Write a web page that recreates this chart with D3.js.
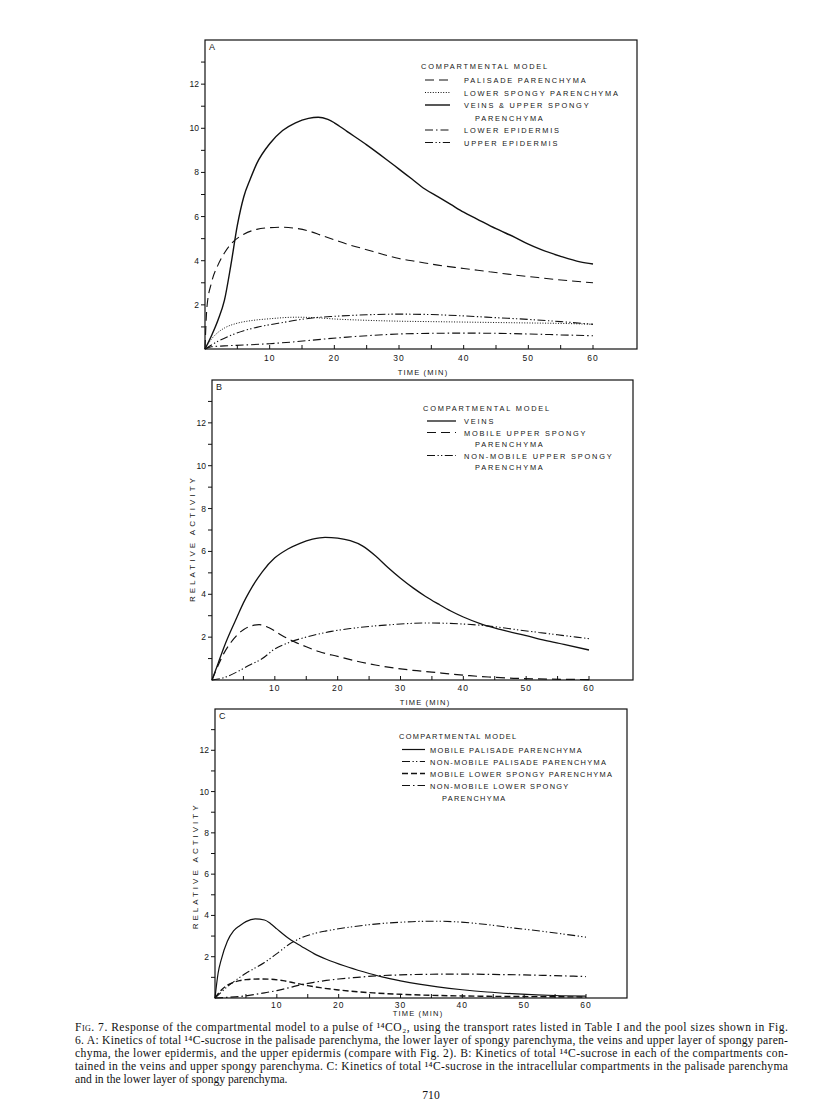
<!DOCTYPE html>
<html>
<head>
<meta charset="utf-8">
<script src="https://cdn.jsdelivr.net/npm/d3@7"></script>
<style>
  body { margin: 0; background: #fff; }
  svg { display: block; }
  .lbl { font-family: "Liberation Sans", Arial, sans-serif; fill: #151515; }
  .cap { font-family: "Liberation Serif", "Times New Roman", serif; font-size: 11.6px; fill: #111; }
</style>
</head>
<body>
<div id="chart"></div>
<script>
// time axis (minutes) shared by all curves
const xTicks = [5, 10, 15, 20, 25, 30, 35, 40, 45, 50, 55, 60];
const xTickLabels = ["10", "20", "30", "40", "50", "60"];
const yTicks = [1, 2, 3, 4, 5, 6, 7, 8, 9, 10, 11, 12, 13];
const yTickLabels = ["2", "4", "6", "8", "10", "12"];

// panel A
const palisade = [[0,0],[0.3,1.9],[1,3.0],[2,3.8],[3,4.35],[4,4.75],[6,5.2],[8,5.42],[10,5.5],[12,5.52],[14,5.47],[16,5.35],[18,5.15],[20,4.95],[22,4.75],[25,4.5],[28,4.25],[30,4.1],[33,3.95],[36,3.8],[40,3.65],[44,3.5],[48,3.35],[52,3.22],[56,3.1],[60,3.0]];
const lowerSpongy = [[0,0],[1,0.45],[2,0.75],[3,0.95],[5,1.17],[7,1.28],[10,1.37],[14,1.44],[17,1.42],[20,1.36],[25,1.3],[30,1.26],[35,1.24],[40,1.22],[45,1.2],[50,1.18],[55,1.16],[60,1.12]];
const veinsUpper = [[0,0],[1,0.6],[2,1.3],[3,2.2],[4,3.8],[5,5.6],[6,6.9],[7,7.7],[8,8.4],[10,9.3],[12,9.9],[14,10.25],[16,10.45],[17.5,10.5],[19,10.4],[20,10.25],[22,9.85],[25,9.25],[28,8.6],[30,8.15],[32,7.7],[34,7.25],[36,6.9],[38,6.55],[40,6.2],[42,5.9],[45,5.45],[48,5.05],[50,4.75],[52,4.5],[55,4.2],[58,3.95],[60,3.85]];
const lowerEpidermis = [[0,0],[1,0.1],[3,0.14],[6,0.18],[10,0.24],[14,0.33],[18,0.44],[22,0.54],[26,0.62],[30,0.68],[35,0.71],[40,0.72],[45,0.71],[50,0.68],[55,0.64],[60,0.6]];
const upperEpidermis = [[0,0],[2,0.35],[4,0.62],[6,0.83],[8,0.98],[10,1.1],[12,1.2],[14,1.3],[17,1.42],[20,1.48],[25,1.55],[30,1.58],[35,1.56],[40,1.5],[45,1.42],[50,1.34],[55,1.24],[60,1.12]];

// panel B
const veins = [[0,0],[1,0.8],[2,1.6],[3,2.3],[4,2.95],[5,3.6],[6,4.15],[8,5.05],[10,5.7],[12,6.1],[14,6.38],[16,6.57],[18,6.66],[20,6.62],[22,6.5],[24,6.25],[26,5.8],[28,5.25],[30,4.75],[32,4.3],[34,3.9],[36,3.55],[38,3.22],[40,2.94],[43,2.6],[46,2.35],[50,2.07],[53,1.85],[56,1.66],[60,1.4]];
const mobileUpper = [[0,0],[1,0.7],[2,1.3],[3,1.75],[4,2.1],[5,2.35],[6,2.5],[7.5,2.58],[9,2.45],[11,2.1],[13,1.8],[15,1.55],[17,1.33],[20,1.1],[23,0.88],[26,0.7],[29,0.56],[32,0.45],[35,0.37],[38,0.28],[41,0.2],[44,0.14],[48,0.08],[52,0.05],[56,0.03],[60,0.02]];
const nonMobileUpper = [[0,0],[2,0.12],[4,0.38],[6,0.7],[8,1.0],[10,1.45],[12,1.72],[14,1.92],[16,2.08],[19,2.27],[22,2.4],[25,2.5],[28,2.57],[31,2.63],[34,2.66],[37,2.65],[40,2.61],[43,2.55],[46,2.45],[49,2.33],[52,2.22],[55,2.11],[58,2.0],[60,1.93]];

// panel C
const mobilePalisade = [[0,0],[0.5,1.2],[1,1.85],[2,2.75],[3,3.25],[4,3.5],[5,3.7],[6.5,3.83],[8,3.78],[9,3.6],[10,3.35],[12,2.87],[14,2.5],[16,2.15],[18,1.88],[21,1.55],[24,1.27],[27,1.02],[30,0.83],[33,0.67],[36,0.54],[40,0.4],[44,0.29],[48,0.21],[52,0.15],[56,0.11],[60,0.09]];
const nonMobilePalisade = [[0,0],[1,0.28],[2,0.55],[3,0.78],[4,1.0],[5,1.2],[6,1.37],[8,1.72],[10,2.15],[12,2.6],[14,2.92],[16,3.12],[18,3.25],[21,3.4],[24,3.52],[27,3.61],[30,3.67],[33,3.71],[36,3.72],[39,3.69],[42,3.62],[45,3.52],[48,3.4],[51,3.3],[54,3.19],[57,3.07],[60,2.95]];
const mobileLower = [[0,0],[1,0.38],[2,0.62],[3,0.76],[4,0.84],[5,0.89],[7,0.92],[9,0.91],[11,0.84],[13,0.72],[15,0.6],[17,0.5],[20,0.39],[23,0.3],[26,0.24],[30,0.18],[35,0.13],[40,0.1],[45,0.08],[50,0.07],[55,0.06],[60,0.05]];
const nonMobileLower = [[0,0],[2,0.03],[4,0.07],[6,0.15],[8,0.25],[10,0.36],[12,0.5],[14,0.65],[16,0.76],[18,0.85],[20,0.92],[23,1.0],[26,1.07],[30,1.12],[35,1.15],[40,1.16],[45,1.14],[50,1.12],[55,1.08],[60,1.04]];

const legendTitle = "COMPARTMENTAL MODEL";

// line styles
const DASH = "9,5", DOT = "1,1.6", DASHDOT = "8,3,1.5,3", DASHDOTDOT = "8,2.5,1.3,2.2,1.3,2.5", LONGDASH = "6,3";

const panels = [
  { letter: "A", left: 205, x60: 593, right: 637, top: 40, bottom: 349, yLabel: false,
    tickDY: 12, titleDY: 26, titleX: 423,
    legend: { x: 421, y: 66, lineX: [425, 450], textX: 464, indent: 475, rowH: 12.5, ls: 1.8 },
    series: [
      { data: palisade, dash: DASH, w: 1.1, label: ["PALISADE PARENCHYMA"] },
      { data: lowerSpongy, dash: DOT, w: 1, label: ["LOWER SPONGY PARENCHYMA"] },
      { data: veinsUpper, dash: null, w: 1.4, label: ["VEINS & UPPER SPONGY", "PARENCHYMA"] },
      { data: lowerEpidermis, dash: DASHDOT, w: 1.1, label: ["LOWER EPIDERMIS"] },
      { data: upperEpidermis, dash: DASHDOTDOT, w: 1.1, label: ["UPPER EPIDERMIS"] }
    ] },
  { letter: "B", left: 212, x60: 589, right: 633, top: 380, bottom: 680, yLabel: true,
    tickDY: 11, titleDY: 25, titleX: 425, yLabelAt: 6.6,
    legend: { x: 423, y: 408, lineX: [427, 456], textX: 464, indent: 475, rowH: 11.5, ls: 1.8 },
    series: [
      { data: veins, dash: null, w: 1.3, label: ["VEINS"] },
      { data: mobileUpper, dash: DASH, w: 1.2, label: ["MOBILE UPPER SPONGY", "PARENCHYMA"] },
      { data: nonMobileUpper, dash: DASHDOTDOT, w: 1.1, label: ["NON-MOBILE UPPER SPONGY", "PARENCHYMA"] }
    ] },
  { letter: "C", left: 215, x60: 586, right: 627, top: 709, bottom: 998, yLabel: true,
    tickDY: 10, titleDY: 18, titleX: 418, yLabelAt: 6.4,
    legend: { x: 399, y: 736, lineX: [402, 425], textX: 430, indent: 442, rowH: 12, ls: 1.3 },
    series: [
      { data: mobilePalisade, dash: null, w: 1.2, label: ["MOBILE PALISADE PARENCHYMA"] },
      { data: nonMobilePalisade, dash: DASHDOTDOT, w: 1.1, label: ["NON-MOBILE PALISADE PARENCHYMA"] },
      { data: mobileLower, dash: LONGDASH, w: 1.4, label: ["MOBILE LOWER SPONGY PARENCHYMA"] },
      { data: nonMobileLower, dash: DASHDOT, w: 1.2, label: ["NON-MOBILE LOWER SPONGY", "PARENCHYMA"] }
    ] }
];

const captionLines = [
  ["Fig. 7. ", "Response of the compartmental model to a pulse of ¹⁴CO₂, using the transport rates listed in Table I and the pool sizes shown in Fig."],
  [null, "6. A: Kinetics of total ¹⁴C-sucrose in the palisade parenchyma, the lower layer of spongy parenchyma, the veins and upper layer of spongy paren-"],
  [null, "chyma, the lower epidermis, and the upper epidermis (compare with Fig. 2). B: Kinetics of total ¹⁴C-sucrose in each of the compartments con-"],
  [null, "tained in the veins and upper spongy parenchyma. C: Kinetics of total ¹⁴C-sucrose in the intracellular compartments in the palisade parenchyma"],
  [null, "and in the lower layer of spongy parenchyma."]
];

const W = 816, H = 1101;
const svg = d3.select("#chart").append("svg").attr("width", W).attr("height", H);
svg.append("rect").attr("width", W).attr("height", H).attr("fill", "#fff");

panels.forEach(p => {
  const x = d3.scaleLinear().domain([0, 60]).range([p.left, p.x60]);
  const y = d3.scaleLinear().domain([0, 14]).range([p.bottom, p.top]);
  const g = svg.append("g");

  // frame
  g.append("rect")
    .attr("x", p.left).attr("y", p.top)
    .attr("width", p.right - p.left).attr("height", p.bottom - p.top)
    .attr("fill", "none").attr("stroke", "#111").attr("stroke-width", 1.2);

  // y axis: ticks point outward, labels on even values
  g.selectAll(".yt").data(yTicks).enter().append("line")
    .attr("x1", p.left - 4).attr("x2", p.left)
    .attr("y1", d => y(d)).attr("y2", d => y(d))
    .attr("stroke", "#111").attr("stroke-width", 1);
  g.selectAll(".yl").data(yTickLabels).enter().append("text")
    .attr("class", "lbl")
    .attr("x", p.left - 6).attr("y", d => y(+d) + 3)
    .attr("text-anchor", "end").attr("font-size", 8.5)
    .text(d => d);

  // x axis: ticks point inward
  g.selectAll(".xt").data(xTicks).enter().append("line")
    .attr("x1", d => x(d)).attr("x2", d => x(d))
    .attr("y1", p.bottom).attr("y2", p.bottom - 4)
    .attr("stroke", "#111").attr("stroke-width", 1);
  g.selectAll(".xl").data(xTickLabels).enter().append("text")
    .attr("class", "lbl")
    .attr("x", d => x(+d)).attr("y", p.bottom + p.tickDY)
    .attr("text-anchor", "middle").attr("font-size", 8.5).attr("letter-spacing", 1)
    .text(d => d);
  g.append("text").attr("class", "lbl")
    .attr("x", p.titleX).attr("y", p.bottom + p.titleDY)
    .attr("text-anchor", "middle").attr("font-size", 7.5).attr("letter-spacing", 1.2)
    .text("TIME (MIN)");

  if (p.yLabel) {
    g.append("text").attr("class", "lbl")
      .attr("transform", `translate(${p.left - 17},${y(p.yLabelAt)}) rotate(-90)`)
      .attr("text-anchor", "middle").attr("font-size", 8).attr("letter-spacing", 3)
      .text("RELATIVE ACTIVITY");
  }

  g.append("text").attr("class", "lbl")
    .attr("x", p.left + 4).attr("y", p.top + 10)
    .attr("font-size", 9).text(p.letter);

  // curves
  const line = d3.line().x(d => x(d[0])).y(d => y(d[1])).curve(d3.curveMonotoneX);
  p.series.forEach(s => {
    g.append("path").datum(s.data)
      .attr("d", line)
      .attr("fill", "none").attr("stroke", "#111")
      .attr("stroke-width", s.w)
      .attr("stroke-dasharray", s.dash);
  });

  // legend
  const L = p.legend;
  g.append("text").attr("class", "lbl")
    .attr("x", L.x).attr("y", L.y + 3)
    .attr("font-size", 7.4).attr("letter-spacing", L.ls)
    .text(legendTitle);
  let yy = L.y + L.rowH + 1.5;
  p.series.forEach(s => {
    g.append("line")
      .attr("x1", L.lineX[0]).attr("x2", L.lineX[1])
      .attr("y1", yy).attr("y2", yy)
      .attr("stroke", "#111").attr("stroke-width", s.w)
      .attr("stroke-dasharray", s.dash);
    s.label.forEach((t, i) => {
      g.append("text").attr("class", "lbl")
        .attr("x", i === 0 ? L.textX : L.indent).attr("y", yy + 3)
        .attr("font-size", 7.4).attr("letter-spacing", L.ls)
        .text(t);
      yy += L.rowH;
    });
  });
});

// caption
const capX0 = 75, capX1 = 788, capY0 = 1031, capDY = 13;
captionLines.forEach((ln, i) => {
  const t = svg.append("text").attr("class", "cap")
    .attr("x", capX0).attr("y", capY0 + i * capDY);
  if (i < captionLines.length - 1) {
    t.attr("textLength", capX1 - capX0).attr("lengthAdjust", "spacing");
  }
  if (ln[0]) t.append("tspan").style("font-variant", "small-caps").text(ln[0]);
  t.append("tspan").text(ln[1]);
});

svg.append("text").attr("class", "cap")
  .attr("x", 431).attr("y", 1099).attr("text-anchor", "middle")
  .text("710");
</script>
</body>
</html>
